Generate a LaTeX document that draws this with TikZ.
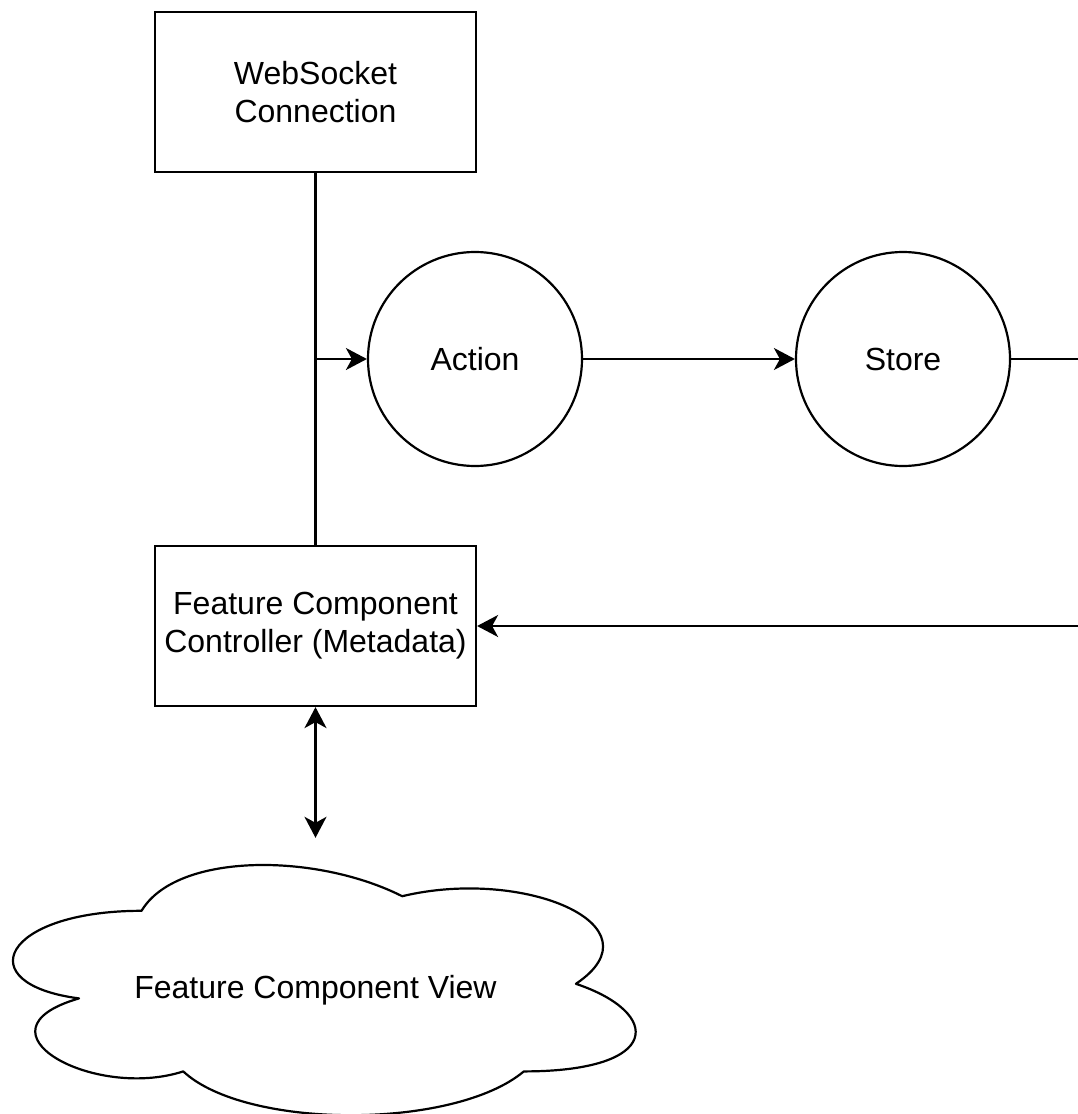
\documentclass[tikz,border=0pt]{standalone}
\usepackage{fontspec}
\setmainfont{Liberation Sans}
\usetikzlibrary{arrows.meta,calc}

\begin{document}
\begin{tikzpicture}[x=1pt,y=-1pt,
  every node/.style={font=\fontsize{32}{38}\selectfont, align=center},
  box/.style={draw, line width=2.2pt, minimum width=321pt, minimum height=160pt, inner sep=0pt},
  disc/.style={draw, circle, line width=2.2pt, minimum size=214pt, inner sep=0pt},
  link/.style={line width=2.2pt},
  head/.tip={Stealth[length=21pt,width=22pt,inset=6pt]},
  tip/.style={-head},
  both/.style={head-head}]
\fill[white] (0,0) rectangle (1078,1114);
\useasboundingbox (0,0) rectangle (1078,1114);

% boxes and state circles
\node[box] (ws) at (315.5,92) {WebSocket\\Connection};
\node[box] (ctrl) at (315.5,626) {Feature Component\\Controller (Metadata)};
\node[disc] (action) at (475,359) {Action};
\node[disc] (store) at (903,359) {Store};
\node[inner sep=0pt, minimum width=695pt, minimum height=292pt,
      text height=28pt, text depth=0pt]
  (view) at (315.5,984) {Feature Component View};

% cloud outline around the view label
\begin{scope}[shift={(view.north west)}, x=695pt, y=-292pt]
\draw[link, line join=round]
  (0.25,0.25) .. controls (0.05,0.25) and (0,0.5) .. (0.16,0.55)
  .. controls (0,0.66) and (0.18,0.9) .. (0.31,0.8)
  .. controls (0.4,1) and (0.7,1) .. (0.8,0.8)
  .. controls (1,0.8) and (1,0.6) .. (0.875,0.5)
  .. controls (1,0.3) and (0.8,0.1) .. (0.625,0.2)
  .. controls (0.5,0.05) and (0.3,0.05) .. (0.25,0.25) -- cycle;
\end{scope}

% connectors
\coordinate (join) at (ws.south |- action.west);
\coordinate (edgeA) at (1078,359);
\coordinate (edgeB) at (1078,626);
\draw[link] (ws.south) -- (ctrl.north);
\draw[link, tip] (join) -- (action.west);
\draw[link, tip] (action.east) -- (store.west);
\draw[link] (store.east) -- (edgeA);
\draw[link, tip] (edgeB) -- (ctrl.east);
\draw[link, both] (ctrl.south) -- (view.north);
\end{tikzpicture}
\end{document}
